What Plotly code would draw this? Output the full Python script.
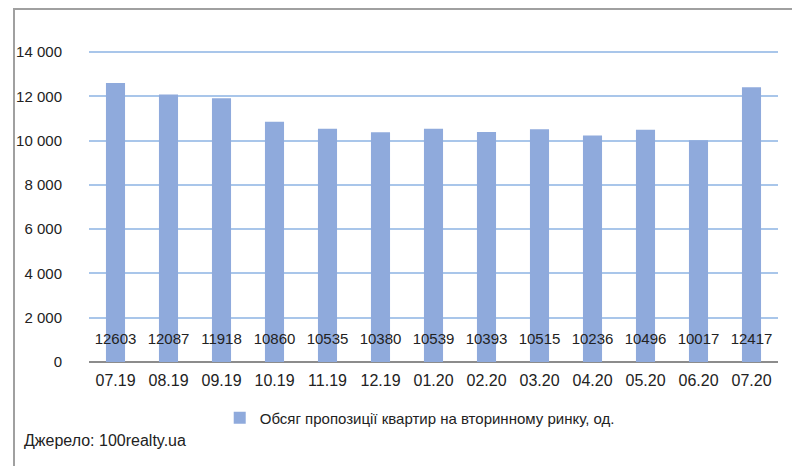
import plotly.graph_objects as go

categories = ["07.19", "08.19", "09.19", "10.19", "11.19", "12.19", "01.20",
              "02.20", "03.20", "04.20", "05.20", "06.20", "07.20"]
values = [12603, 12087, 11918, 10860, 10535, 10380, 10539,
          10393, 10515, 10236, 10496, 10017, 12417]
series_name = "Обсяг пропозиції квартир на вторинному ринку, од."
source_text = "Джерело: 100realty.ua"
y_ticks = [0, 2000, 4000, 6000, 8000, 10000, 12000, 14000]
y_ticktext = ["0", "2 000", "4 000", "6 000", "8 000", "10 000", "12 000", "14 000"]
label_level = 1000  # vertical level at which the value labels are written

FONT = "Liberation Sans Narrow, Arial Narrow, Liberation Sans, Arial, sans-serif"
BAR = "#8FAADC"

fig = go.Figure()
fig.add_trace(go.Bar(
    x=categories, y=values, name=series_name,
    marker=dict(color=BAR, line=dict(width=0)),
))
fig.add_trace(go.Scatter(
    x=categories, y=[label_level] * len(values),
    text=[str(v) for v in values], mode="text",
    textposition="middle center", showlegend=False, hoverinfo="skip",
    textfont=dict(family=FONT, size=15, color="#222222"),
    cliponaxis=False,
))

W, H = 792, 466
L, R, T, B = 89, 14, 30, 104
pw, ph = W - L - R, H - T - B

def px_x(p):
    return (p - L) / pw

def px_y(p):
    return (H - B - p) / ph

x0, y0, y1 = px_x(14), px_y(470), px_y(9)
x1 = px_x(800)

fig.update_layout(
    width=W, height=H,
    margin=dict(l=L, r=R, t=T, b=B),
    paper_bgcolor="white", plot_bgcolor="white",
    font=dict(family=FONT, size=15, color="#222222"),
    bargap=0.64,
    showlegend=True,
    legend=dict(orientation="h", x=0.48, xanchor="center", y=px_y(418), yanchor="middle",
                font=dict(family=FONT, size=15, color="#222222"),
                itemwidth=30, bgcolor="rgba(0,0,0,0)"),
    xaxis=dict(range=[-0.5, len(categories) - 0.5], showgrid=False, showline=False,
               ticks="", ticklabelstandoff=7,
               tickfont=dict(family=FONT, size=16, color="#222222")),
    yaxis=dict(range=[0, 15000], tickvals=y_ticks, ticktext=y_ticktext,
               showgrid=True, gridcolor="#A9C6EA", gridwidth=2,
               zeroline=True, zerolinecolor="#8C8C8C", zerolinewidth=1.5,
               showline=False, ticks="", ticklabelstandoff=26,
               tickfont=dict(family=FONT, size=15, color="#222222")),
    shapes=[dict(type="path", xref="paper", yref="paper",
                 path=f"M {x0} {y0} L {x0} {y1} L {x1} {y1}",
                 line=dict(color="#A0A0A0", width=2))],
    annotations=[dict(text=source_text, xref="paper", yref="paper",
                      x=px_x(22), y=px_y(440), xanchor="left", yanchor="middle",
                      showarrow=False,
                      font=dict(family=FONT, size=16, color="#222222"))],
)

fig.write_html("out.html")
